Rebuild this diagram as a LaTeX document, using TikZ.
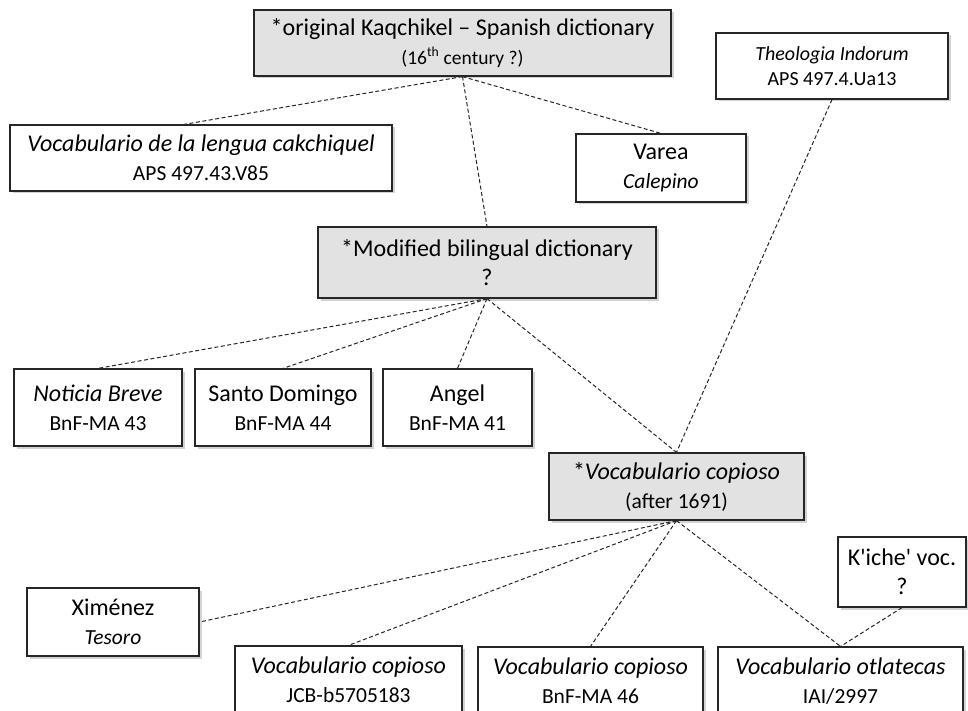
\documentclass[tikz,border=0pt]{standalone}
\usepackage{fontspec}
\setmainfont{Carlito}
\usetikzlibrary{shadows}
\definecolor{boxgray}{HTML}{E2E2E2}
\newcommand{\bigtxt}{\fontsize{24}{29}\selectfont}
\newcommand{\smtxt}{\fontsize{21.5}{27}\selectfont}

\begin{document}
\begin{tikzpicture}[x=1pt, y=-1pt,
    witness/.style={draw=black!85, line width=1.2pt, fill=white, align=center,
      inner sep=0pt, font=\bigtxt,
      drop shadow={shadow xshift=2.5pt, shadow yshift=-2.5pt, opacity=0.35}},
    lost/.style={witness, fill=boxgray},
    filiation/.style={black!85, line width=1pt, dash pattern=on 4pt off 2.5pt}]
      \useasboundingbox (0,0) rectangle (968,711);
      % lost (reconstructed) sources
      \node [lost, minimum width=417pt, minimum height=66pt] (orig) at (462.5, 43)
        {*original Kaqchikel -- Spanish dictionary\\{\fontsize{19.5}{23}\selectfont (16\textsuperscript{th} century ?)}};
      \node [lost, minimum width=338pt, minimum height=71pt] (modif) at (487, 262.5)
        {*Modified bilingual dictionary\\?};
      \node [lost, minimum width=255pt, minimum height=67pt] (vc) at (676.5, 486.5)
        {*\textit{Vocabulario copioso}\\{\smtxt (after 1691)}};
      % extant witnesses
      \node [witness, minimum width=232pt, minimum height=66pt, font=\fontsize{20}{25}\selectfont] (theo) at (832, 66)
        {\textit{Theologia Indorum}\\APS 497.4.Ua13};
      \node [witness, minimum width=382pt, minimum height=66pt] (vlen) at (201, 158)
        {\textit{Vocabulario de la lengua cakchiquel}\\{\smtxt APS 497.43.V85}};
      \node [witness, minimum width=170pt, minimum height=68pt] (varea) at (661, 168)
        {Varea\\{\smtxt\textit{Calepino}}};
      \node [witness, minimum width=168pt, minimum height=77pt] (noticia) at (98, 407.5)
        {\textit{Noticia Breve}\\{\smtxt BnF-MA 43}};
      \node [witness, minimum width=176pt, minimum height=77pt] (santo) at (283, 407.5)
        {Santo Domingo\\{\smtxt BnF-MA 44}};
      \node [witness, minimum width=149pt, minimum height=77pt] (angel) at (457.5, 407.5)
        {Angel\\{\smtxt BnF-MA 41}};
      \node [witness, minimum width=128pt, minimum height=70pt] (kiche) at (902, 572)
        {K\textquotesingle iche\textquotesingle{} voc.\\?};
      \node [witness, minimum width=172pt, minimum height=68pt] (ximenez) at (113, 622)
        {Ximénez\\{\smtxt\textit{Tesoro}}};
      \node [witness, minimum width=227pt, minimum height=68pt] (jcb) at (348.5, 680)
        {\textit{Vocabulario copioso}\\{\smtxt JCB-b5705183}};
      \node [witness, minimum width=225pt, minimum height=68pt] (bnf) at (590.5, 681)
        {\textit{Vocabulario copioso}\\{\smtxt BnF-MA 46}};
      \node [witness, minimum width=245pt, minimum height=68pt] (otl) at (840.5, 681)
        {\textit{Vocabulario otlatecas}\\{\smtxt IAI/2997}};
      % filiation
      \draw [filiation] (orig.south) -- ([xshift=-17pt]vlen.north);
      \draw [filiation] (orig.south) -- (modif.north);
      \draw [filiation] (orig.south) -- (varea.north);
      \draw [filiation] (theo.south) -- (vc.north);
      \draw [filiation] (modif.south) -- (noticia.north);
      \draw [filiation] (modif.south) -- (santo.north);
      \draw [filiation] (modif.south) -- (angel.north);
      \draw [filiation] (modif.south) -- (vc.north);
      \draw [filiation] (vc.south) -- (ximenez.east);
      \draw [filiation] (vc.south) -- (jcb.north);
      \draw [filiation] (vc.south) -- (bnf.north);
      \draw [filiation] (vc.south) -- (otl.north);
      \draw [filiation] (kiche.south) -- (otl.north);
\end{tikzpicture}
\end{document}
